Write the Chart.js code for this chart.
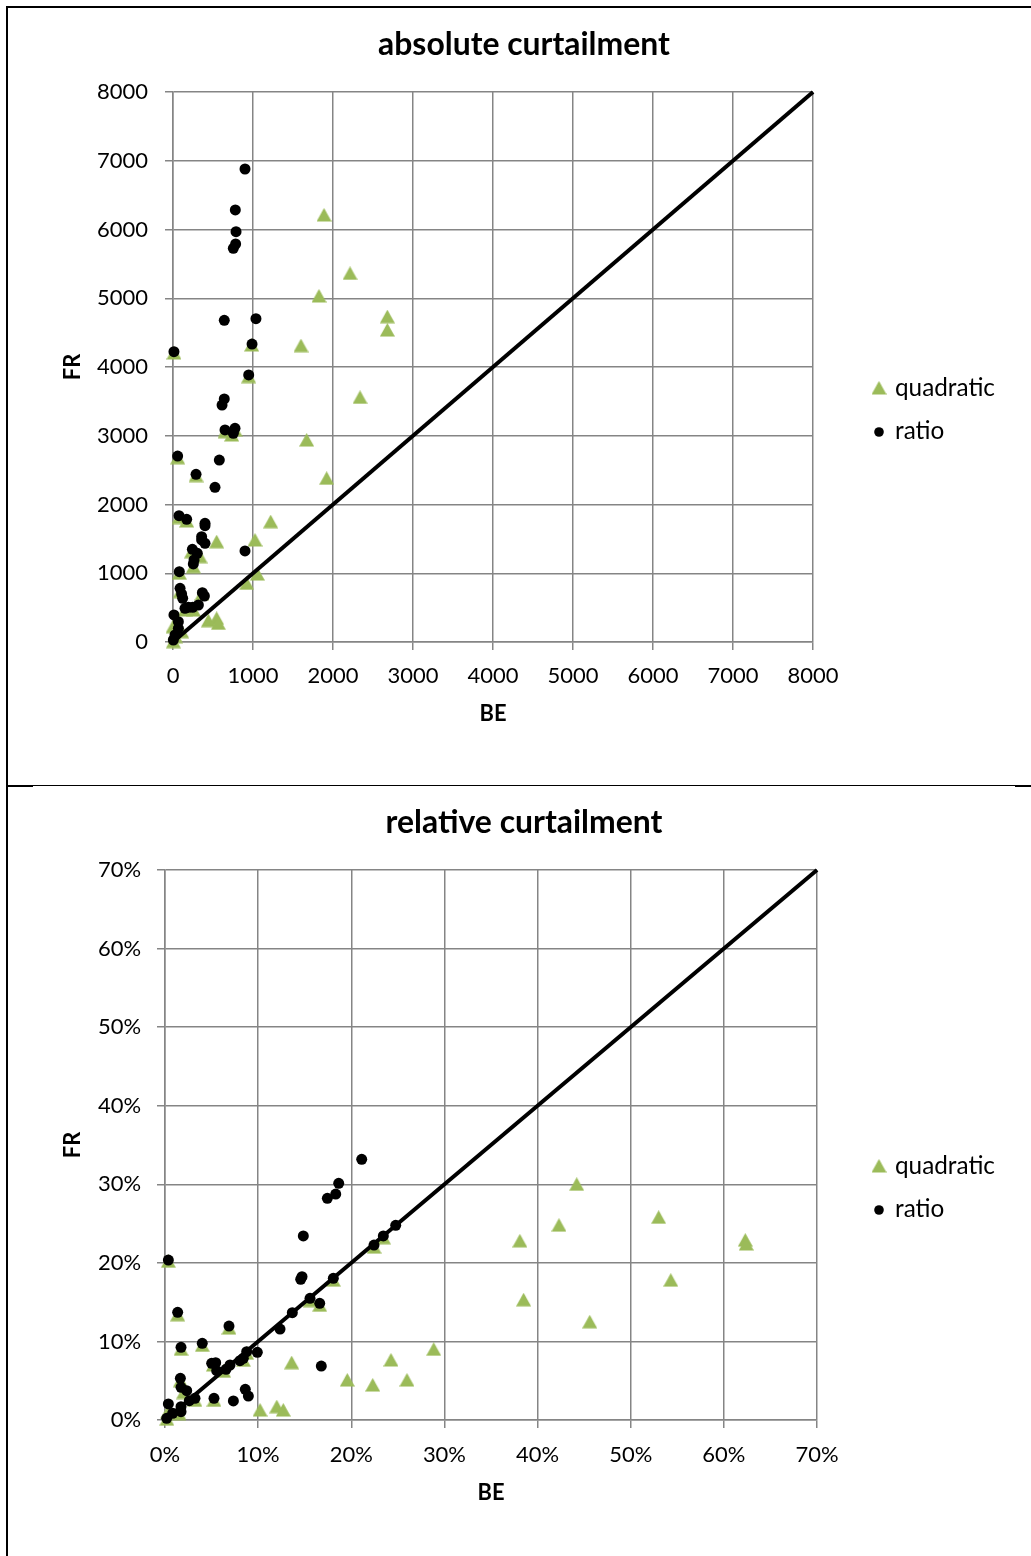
<!DOCTYPE html>
<html><head><meta charset="utf-8">
<script src="https://cdn.jsdelivr.net/npm/chart.js@4.4.1/dist/chart.umd.min.js"></script>
<style>
html,body{margin:0;padding:0;background:#fff;}
#page{position:relative;width:1031px;height:1556px;overflow:hidden;background:#fff;}
canvas{position:absolute;left:0;}
.ln{position:absolute;background:#000;}
</style></head><body>
<div id="page">
<canvas id="c1" width="1031" height="780" style="top:0"></canvas>
<canvas id="c2" width="1031" height="770" style="top:786px"></canvas>
<div class="ln" style="left:6px;top:6px;width:2px;height:1550px"></div>
<div class="ln" style="left:6px;top:6px;width:1025px;height:2px"></div>
<div class="ln" style="left:8px;top:785px;width:1023px;height:1px"></div>
<div class="ln" style="left:8px;top:785px;width:25px;height:2px"></div>
<div class="ln" style="left:1015px;top:785px;width:16px;height:2px"></div>
</div>
<script>
// ---------- data ----------
const absTicks = [0,1000,2000,3000,4000,5000,6000,7000,8000];
const relTicks = [0,10,20,30,40,50,60,70];
const seriesNames = ['quadratic','ratio'];

const absQuadBE = [1888,2213,1825,2679,2679,1600,983,12,946,2338,650,775,733,1671,58,288,1921,75,171,1221,546,1025,233,338,254,79,1054,921,88,362,150,254,442,546,567,0,108,4,30];
const absQuadFR = [6211,5362,5033,4732,4538,4310,4320,4204,3860,3559,3059,3084,3011,2938,2680,2420,2381,1810,1760,1750,1459,1484,1314,1241,1095,1000,989,853,732,698,465,465,310,344,271,222,150,5,80];
const absRatioBE = [900,779,788,783,754,641,1037,988,12,946,641,613,650,775,754,58,579,288,525,75,171,400,400,358,400,358,900,242,304,263,254,79,88,108,121,367,392,150,246,317,192,12,67,67,25,4];
const absRatioFR = [6880,6284,5968,5789,5726,4679,4703,4334,4223,3884,3535,3447,3084,3108,3036,2705,2647,2439,2250,1837,1785,1727,1692,1532,1435,1484,1324,1348,1290,1193,1135,1023,781,698,635,718,669,490,504,538,504,393,295,199,102,29];
const absDiag = [0,8000];

const relQuadBE = [0.36,23.44,22.44,18.07,15.57,16.61,1.36,6.87,1.72,4.0,8.77,8.41,5.2,6.3,1.65,2.0,5.26,3.22,0.3,1.5,0.2,13.6,10.2,12.0,12.7,19.57,22.3,24.26,25.98,28.85,38.1,44.2,42.3,38.5,53.0,54.3,45.6,62.3,62.4];
const relQuadFR = [20.2,23.2,22.0,17.8,15.2,14.6,13.4,11.7,9.0,9.5,8.5,7.6,7.0,6.2,5.0,3.5,2.5,2.5,1.0,0.8,0.1,7.3,1.27,1.7,1.27,5.09,4.45,7.64,5.09,9.0,22.8,30.0,24.8,15.3,25.8,17.8,12.5,22.9,22.4];
const relRatioBE = [21.12,18.65,18.33,17.43,14.85,0.36,24.77,23.44,22.44,14.71,14.57,18.07,15.57,16.61,13.67,1.36,12.35,6.87,1.72,4.0,9.91,8.77,8.41,8.05,5.01,5.44,5.55,6.55,6.98,16.78,1.65,1.72,2.33,8.62,8.95,7.34,5.26,3.22,2.61,0.36,1.72,1.72,0.82,0.18];
const relRatioFR = [33.18,30.12,28.76,28.21,23.42,20.36,24.78,23.42,22.27,18.24,17.91,18.03,15.49,14.85,13.66,13.71,11.58,11.96,9.25,9.76,8.61,8.7,7.85,7.55,7.21,7.30,6.28,6.45,7.0,6.87,5.30,4.16,3.73,3.9,3.05,2.42,2.76,2.76,2.46,2.04,1.7,1.06,0.85,0.21];
const relDiag = [0,70];

// ---------- styling ----------
const F = 'Lato';
const GRID = '#858585';
const GREEN = '#9BBB59';
function fit(text, weight, target){
  const c = document.createElement('canvas').getContext('2d');
  c.font = weight + ' 100px ' + F;
  return 100 * target / c.measureText(text).width;
}
const tickSize = fit('8000','normal',51);
const titleSize = fit('absolute curtailment','bold',292);
const axisSize = fit('BE','bold',27);
const legSize = fit('quadratic','normal',100);

const tri = document.createElement('canvas');
tri.width = 15; tri.height = 14;
(function(){ const t = tri.getContext('2d'); t.fillStyle = GREEN; t.beginPath(); t.moveTo(7.5,0); t.lineTo(15,13.5); t.lineTo(0,13.5); t.closePath(); t.fill(); })();

const zip = (xs, ys) => xs.map((x,i)=>({x:x, y:ys[i]}));

const decor = {
  id: 'decor',
  afterDraw(chart, args, o){
    const ctx = chart.ctx, ca = chart.chartArea;
    ctx.save();
    ctx.fillStyle = '#000';
    ctx.textAlign = 'center'; ctx.textBaseline = 'alphabetic';
    ctx.font = 'bold ' + titleSize + 'px ' + F;
    ctx.fillText(o.title, o.titleX, o.titleBase);
    ctx.drawImage(tri, o.legX - tri.width/2, ca.top + 296 - tri.height/2);
    ctx.beginPath(); ctx.arc(o.legX, ca.top + 340, 4.8, 0, Math.PI*2); ctx.fill();
    ctx.textAlign = 'left';
    ctx.font = legSize + 'px ' + F;
    ctx.fillText(seriesNames[0], o.legTextX, ca.top + 304);
    ctx.fillText(seriesNames[1], o.legTextX, ca.top + 347);
    ctx.restore();
  }
};

function build(id, o){
  const W = 1031, H = o.height;
  const tickLH = tickSize*1.2, axLH = axisSize*1.2;
  const PL = 20;
  const xAxisH = o.xTitleY - o.area.bottom + axLH/2;
  const grid = {color: GRID, lineWidth: 1.5, tickLength: 8, tickColor: GRID, tickWidth: 1.5, drawTicks: true};
  const border = {color: GRID, width: 1.5};
  const min = o.ticks[0], max = o.ticks[o.ticks.length-1];
  new Chart(document.getElementById(id), {
    type: 'scatter',
    data: { datasets: [
      {label: seriesNames[1], data: zip(o.rX, o.rY), pointStyle: 'circle', pointRadius: 5.5, backgroundColor: '#000', borderColor: '#000', borderWidth: 0, order: 0, clip: false},
      {label: 'diag', data: zip(o.diag, o.diag), showLine: true, pointRadius: 0, borderColor: '#000', borderWidth: 4, order: 1, clip: false},
      {label: seriesNames[0], data: zip(o.qX, o.qY), pointStyle: tri, pointRadius: 8, backgroundColor: GREEN, borderWidth: 0, order: 2, clip: false}
    ]},
    options: {
      responsive: false, animation: false, events: [],
      layout: {padding: {left: PL, top: o.area.top, right: W - o.area.right, bottom: H - o.area.bottom - xAxisH}},
      plugins: {legend: {display: false}, title: {display: false}, tooltip: {enabled: false},
        decor: {title: o.title, titleX: 524, titleBase: o.titleBase, legX: 879, legTextX: 895}},
      scales: {
        x: {type: 'linear', position: 'bottom', min: min, max: max,
          afterBuildTicks: s => { s.ticks = o.ticks.map(v => ({value: v})); },
          afterFit: s => { s.height = xAxisH; },
          grid: grid, border: border,
          ticks: {color: '#000', font: {family: F, size: tickSize}, padding: o.xLabelY - o.area.bottom - 8 - tickLH/2, maxRotation: 0, autoSkip: false, callback: o.fmt},
          title: {display: true, text: 'BE', color: '#000', font: {family: F, size: axisSize, weight: 'bold'}, padding: 0}},
        y: {type: 'linear', position: 'left', min: min, max: max,
          afterBuildTicks: s => { s.ticks = o.ticks.map(v => ({value: v})); },
          afterFit: s => { s.width = o.area.left - PL; },
          grid: grid, border: border,
          ticks: {color: '#000', font: {family: F, size: tickSize}, padding: o.area.left - 8 - o.yLabelRight, autoSkip: false, callback: o.fmt},
          title: {display: true, text: 'FR', color: '#000', font: {family: F, size: axisSize, weight: 'bold'}, padding: {top: o.yTitleX - PL - axLH/2, bottom: 0}}}
      }
    },
    plugins: [decor]
  });
}

build('c1', {height: 780, area: {left: 173, top: 92, right: 813, bottom: 642},
  xLabelY: 676, xTitleY: 714, yLabelRight: 148, yTitleX: 73, titleBase: 55,
  title: 'absolute curtailment', ticks: absTicks, fmt: v => String(v),
  qX: absQuadBE, qY: absQuadFR, rX: absRatioBE, rY: absRatioFR, diag: absDiag});

build('c2', {height: 770, area: {left: 165, top: 84, right: 817, bottom: 634},
  xLabelY: 669, xTitleY: 707, yLabelRight: 141, yTitleX: 73, titleBase: 47,
  title: 'relative curtailment', ticks: relTicks, fmt: v => v + '%',
  qX: relQuadBE, qY: relQuadFR, rX: relRatioBE, rY: relRatioFR, diag: relDiag});
</script>
</body></html>
